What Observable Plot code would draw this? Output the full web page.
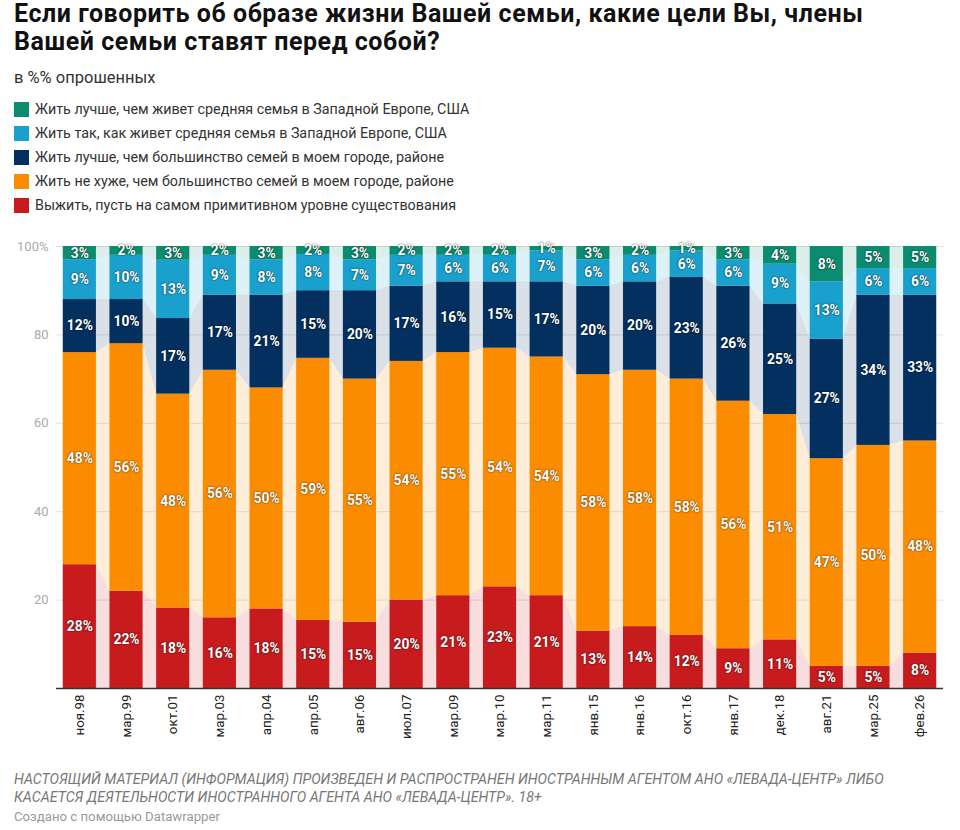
<!DOCTYPE html>
<html>
<head>
<meta charset="utf-8">
<script src="https://cdn.jsdelivr.net/npm/d3@7"></script>
<script src="https://cdn.jsdelivr.net/npm/@observablehq/plot@0.6"></script>
<style>
  html, body { margin: 0; padding: 0; background: #fff; }
  body { width: 960px; font-family: Roboto, "Noto Sans", sans-serif; color: #222; }
  .pad { padding: 0 14px; }
  h1 { margin: 0 0 0 0; font-size: 25px; line-height: 28px; font-weight: 700; color: #111; letter-spacing: 0.55px; white-space: nowrap; }
  .sub { margin-top: 13px; font-size: 16.5px; line-height: 18px; color: #333; }
  .legend { margin-top: 10px; }
  .legend .item { height: 24px; display: flex; align-items: center; font-size: 14.3px; color: #333; white-space: nowrap; }
  .legend .sw { width: 15px; height: 15px; margin-right: 6px; flex: none; }
  #chart { margin-top: 11px; height: 540px; }
  #chart svg text { font-family: Roboto, sans-serif; }
  [aria-label^="y-axis"] text { fill: #aaa; font-size: 13px; }
  [aria-label^="x-axis"] text { fill: #222; font-size: 13.3px; }
  g[aria-label="text"] text { text-shadow: 0 0 2px rgba(0,0,0,0.55), 0 0 1px rgba(0,0,0,0.5); }
  .caption { margin-top: 2px; font-size: 14.2px; line-height: 18px; font-style: italic; color: #777; white-space: nowrap; }
  .credit { margin-top: 3px; font-size: 13.2px; line-height: 16px; color: #999; }
</style>
</head>
<body>
<div class="pad">
  <h1>Если говорить об образе жизни Вашей семьи, какие цели Вы, члены<br>Вашей семьи ставят перед собой?</h1>
  <div class="sub">в %% опрошенных</div>
  <div class="legend" id="legend"></div>
</div>
<div id="chart"></div>
<div class="pad">
  <div class="caption">НАСТОЯЩИЙ МАТЕРИАЛ (ИНФОРМАЦИЯ) ПРОИЗВЕДЕН И РАСПРОСТРАНЕН ИНОСТРАННЫМ АГЕНТОМ АНО «ЛЕВАДА-ЦЕНТР» ЛИБО<br>КАСАЕТСЯ ДЕЯТЕЛЬНОСТИ ИНОСТРАННОГО АГЕНТА АНО «ЛЕВАДА-ЦЕНТР». 18+</div>
  <div class="credit">Создано с помощью Datawrapper</div>
</div>
<script>
const dates = ["ноя.98","мар.99","окт.01","мар.03","апр.04","апр.05","авг.06","июл.07","мар.09","мар.10","мар.11","янв.15","янв.16","окт.16","янв.17","дек.18","авг.21","мар.25","фев.26"];

const seriesNames = [
  "Выжить, пусть на самом примитивном уровне существования",
  "Жить не хуже, чем большинство семей в моем городе, районе",
  "Жить лучше, чем большинство семей в моем городе, районе",
  "Жить так, как живет средняя семья в Западной Европе, США",
  "Жить лучше, чем живет средняя семья в Западной Европе, США"
];
const seriesColors = ["#c71b1e", "#fb8c00", "#03305f", "#19a0cd", "#0b8c6f"];

const survive    = [28, 22, 18.2, 16, 18, 15.4, 15, 20, 21, 23, 21, 13, 14, 12, 9, 11, 5, 5, 8];
const notWorse   = [48, 56, 48.4, 56, 50, 59.3, 55, 54, 55, 54, 54, 58, 58, 58, 56, 51, 47, 50, 48];
const betterCity = [12, 10, 17.1, 17, 21, 15.3, 20, 17, 16, 15, 17, 20, 20, 23, 26, 25, 27, 34, 33];
const likeWest   = [9, 10, 13.2, 9, 8, 8.2, 7, 7, 6, 6, 7, 6, 6, 6, 6, 9, 13, 6, 6];
const betterWest = [3, 2, 3.1, 2, 3, 1.8, 3, 2, 2, 2, 1, 3, 2, 1, 3, 4, 8, 5, 5];

const yTicks = [20, 40, 60, 80, 100];

const seriesValues = [survive, notWorse, betterCity, likeWest, betterWest];

// legend (top to bottom: reversed stack order)
const legend = document.getElementById("legend");
for (let k = seriesNames.length - 1; k >= 0; k--) {
  const it = document.createElement("div");
  it.className = "item";
  it.innerHTML = `<span class="sw" style="background:${seriesColors[k]}"></span><span>${seriesNames[k]}</span>`;
  legend.appendChild(it);
}

// build stacked table
const half = 0.355;
const rows = [];
const areaRows = [];
dates.forEach((d, i) => {
  let acc = 0;
  seriesValues.forEach((vals, k) => {
    const v = vals[i];
    const r = {i, date: d, series: seriesNames[k], value: v, y1: acc, y2: acc + v};
    rows.push(r);
    acc += v;
  });
});
seriesNames.forEach((s) => {
  rows.filter(r => r.series === s).forEach(r => {
    areaRows.push({x: r.i - half, y1: r.y1, y2: r.y2, series: s});
    areaRows.push({x: r.i + half, y1: r.y1, y2: r.y2, series: s});
  });
});

const chart = Plot.plot({
  width: 960,
  height: 540,
  marginLeft: 56,
  marginRight: 17,
  marginTop: 18,
  marginBottom: 80,
  style: {fontFamily: "Roboto, sans-serif", fontSize: "13px", background: "transparent"},
  x: {
    domain: [-0.5, dates.length - 0.5],
    ticks: d3.range(dates.length),
    tickFormat: i => dates[i],
    tickRotate: -90,
    tickSize: 0,
    tickPadding: 6,
    label: null
  },
  y: {
    domain: [0, 100],
    ticks: yTicks,
    tickFormat: d => d === 100 ? "100%" : String(d),
    tickSize: 0,
    tickPadding: 8,
    label: null
  },
  color: {domain: seriesNames, range: seriesColors},
  marks: [
    Plot.ruleY(yTicks, {stroke: "#e2e2e2", strokeWidth: 1}),
    Plot.areaY(areaRows, {x: "x", y1: "y1", y2: "y2", z: "series", fill: "series", fillOpacity: 0.15, curve: "linear"}),
    Plot.rect(rows, {x1: d => d.i - half, x2: d => d.i + half, y1: "y1", y2: "y2", fill: "series"}),
    Plot.ruleY([0], {stroke: "#333", strokeWidth: 1.5}),
    Plot.text(rows, {x: "i", y: d => (d.y1 + d.y2) / 2, text: d => Math.round(d.value) + "%", fill: "white", fontWeight: 700, fontSize: 13.8})
  ]
});
document.getElementById("chart").appendChild(chart);
</script>
</body>
</html>
